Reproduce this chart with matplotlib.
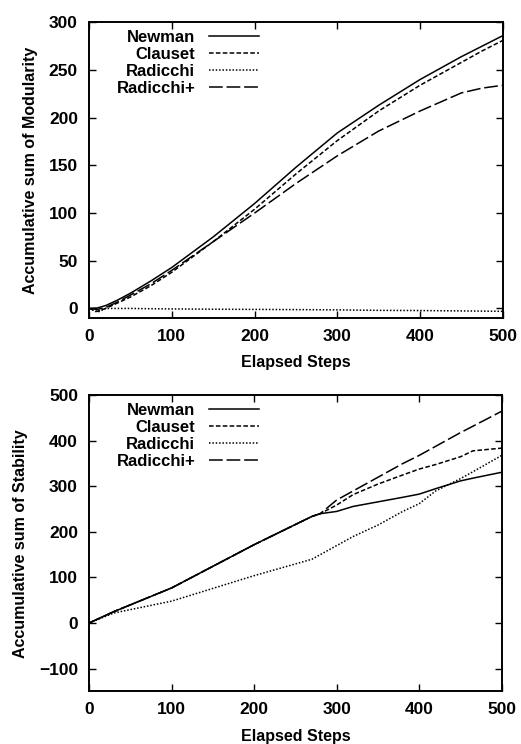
import numpy as np
import matplotlib.pyplot as plt

plt.rcParams['font.family'] = ['Liberation Sans', 'DejaVu Sans']

# top panel: accumulative modularity
steps_m = [0, 10, 20, 35, 50, 75, 100, 150, 200, 250, 300, 350, 400, 450, 475, 500]
newman_m = [0, 0.5, 3, 9, 16, 29, 43, 75, 110, 148, 184, 213, 240, 264, 275, 286]
clauset_m = [0, -3, 0, 6, 12, 24, 38, 70, 104, 141, 176, 207, 234, 258, 270, 281]
radicchi_m = [0, -4, 0, 0, 0, -0.3, -0.5, -0.8, -1, -1.2, -1.5, -2, -2.2, -2.6, -2.8, -3]
radicchi_plus_m = [0, -1, 1, 7, 14, 26, 40, 70, 100, 131, 160, 186, 207, 226, 231, 234]

# bottom panel: accumulative stability
steps_s = [0, 30, 100, 200, 270, 280, 300, 320, 350, 380, 400, 420, 450, 465, 500]
newman_s = [0, 25, 77, 172, 234, 240, 245, 256, 266, 276, 283, 295, 312, 318, 331]
clauset_s = [0, 25, 77, 172, 234, 240, 259, 282, 305, 325, 338, 348, 365, 378, 384]
radicchi_s = [0, 22, 48, 104, 140, 150, 170, 190, 215, 245, 262, 290, 317, 332, 368]
radicchi_plus_s = [0, 25, 77, 172, 234, 240, 270, 290, 320, 350, 368, 388, 418, 432, 465]

labels = ["Newman", "Clauset", "Radicchi", "Radicchi+"]
styles = [dict(ls='-'), dict(ls=(0, (3, 1.5))), dict(ls=(0, (1, 1.2))), dict(ls=(0, (9, 2.5)))]

fig = plt.figure(figsize=(5.21, 7.44), dpi=100)
ax1 = fig.add_axes([0.171, 0.5726, 0.794, 0.3974])
ax2 = fig.add_axes([0.171, 0.0708, 0.792, 0.3979])

for ax, xs, series in [(ax1, steps_m, [newman_m, clauset_m, radicchi_m, radicchi_plus_m]),
                       (ax2, steps_s, [newman_s, clauset_s, radicchi_s, radicchi_plus_s])]:
    for ys, lab, st in zip(series, labels, styles):
        ax.plot(xs, ys, color='black', lw=1.1, label=lab, **st)
    ax.set_xlim(0, 500)
    ax.set_xticks([0, 100, 200, 300, 400, 500])
    ax.tick_params(direction='in', top=True, right=True, length=5, width=1, labelsize=12.5, pad=8)
    for lbl in ax.get_xticklabels() + ax.get_yticklabels():
        lbl.set_fontweight('bold')
    for sp in ax.spines.values():
        sp.set_linewidth(1.4)
    ax.set_xlabel("Elapsed Steps", fontsize=11.5, fontweight='bold', labelpad=8)
    leg = ax.legend(loc='upper left', bbox_to_anchor=(0.03, 1.025), frameon=False, markerfirst=False,
                    handlelength=3.0, handletextpad=0.8, labelspacing=0.12,
                    prop=dict(size=12, weight='bold'))

ax1.set_ylim(-10, 300)
ax1.set_yticks([0, 50, 100, 150, 200, 250, 300])
ax1.set_ylabel("Accumulative sum of Modularity", fontsize=11.5, fontweight='bold', labelpad=8)

ax2.set_ylim(-150, 500)
ax2.set_yticks([-100, 0, 100, 200, 300, 400, 500])
ax2.set_ylabel("Accumulative sum of Stability", fontsize=11.5, fontweight='bold', labelpad=8)

fig.savefig("out.png", dpi=100)
